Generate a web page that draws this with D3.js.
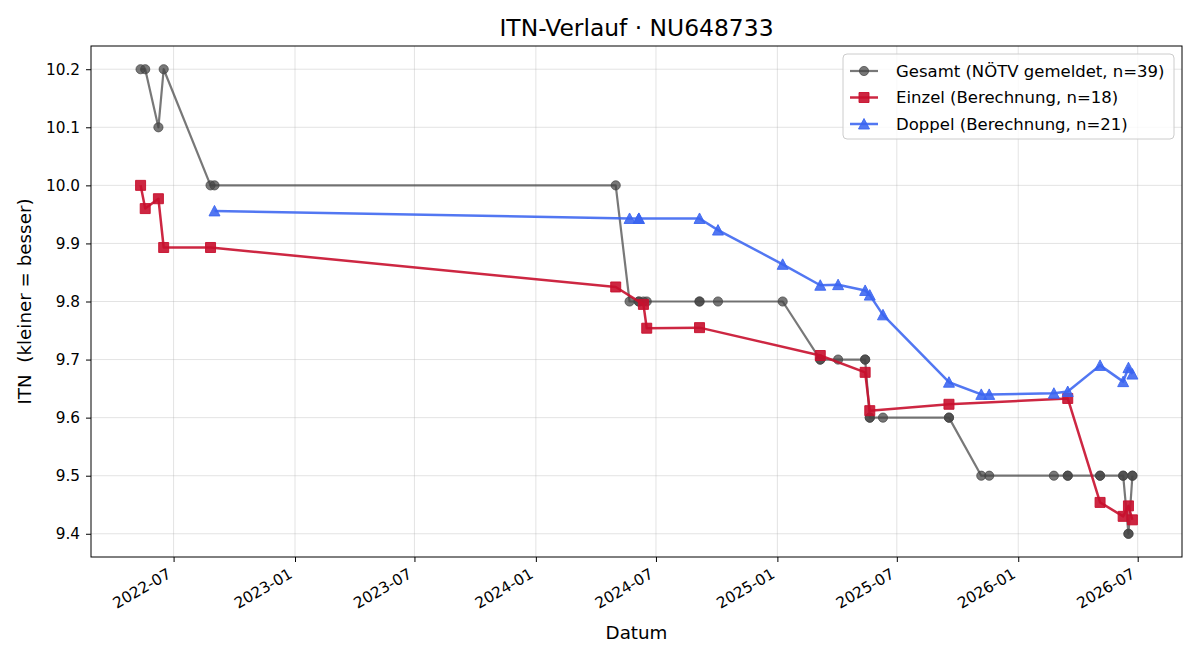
<!DOCTYPE html>
<html>
<head>
<meta charset="utf-8">
<script src="https://cdn.jsdelivr.net/npm/d3@7"></script>
<style>
    body { margin: 0; background: #fff; }
    svg { font-family: "DejaVu Sans", sans-serif; }
</style>
</head>
<body>
<svg id="chart" width="1200" height="660"></svg>
<script>
// Gesamt (NÖTV gemeldet) - one entry per match, same day twice if both played
const gesamtDates = [
    "2022-05-12", "2022-05-19", "2022-06-08", "2022-06-16", "2022-08-26", "2022-09-01",
    "2024-05-01", "2024-05-22", "2024-06-05", "2024-06-05", "2024-06-12", "2024-06-17",
    "2024-09-05", "2024-09-05", "2024-10-03", "2025-01-09", "2025-03-07", "2025-03-07",
    "2025-04-03", "2025-05-14", "2025-05-14", "2025-05-21", "2025-05-21", "2025-06-10",
    "2025-09-18", "2025-09-18", "2025-11-06", "2025-11-18", "2026-02-24", "2026-03-17",
    "2026-03-17", "2026-05-05", "2026-05-05", "2026-06-09", "2026-06-09", "2026-06-17",
    "2026-06-17", "2026-06-23", "2026-06-23"
];
const gesamtValues = [
    10.2, 10.2, 10.1, 10.2, 10.0, 10.0,
    10.0, 9.8, 9.8, 9.8, 9.8, 9.8,
    9.8, 9.8, 9.8, 9.8, 9.7, 9.7,
    9.7, 9.7, 9.7, 9.6, 9.6, 9.6,
    9.6, 9.6, 9.5, 9.5, 9.5, 9.5,
    9.5, 9.5, 9.5, 9.5, 9.5, 9.4,
    9.4, 9.5, 9.5
];

// Einzel (Berechnung)
const einzelDates = [
    "2022-05-12", "2022-05-19", "2022-06-08", "2022-06-16", "2022-08-26", "2024-05-01",
    "2024-06-12", "2024-06-17", "2024-09-05", "2025-03-07", "2025-05-14", "2025-05-21",
    "2025-09-18", "2026-03-17", "2026-05-05", "2026-06-09", "2026-06-17", "2026-06-23"
];
const einzelValues = [
    10.000, 9.960, 9.977, 9.893, 9.893, 9.825,
    9.795, 9.754, 9.755, 9.707, 9.678, 9.612,
    9.623, 9.633, 9.454, 9.430, 9.448, 9.424
];

// Doppel (Berechnung)
const doppelDates = [
    "2022-09-01", "2024-05-22", "2024-06-05", "2024-06-05", "2024-09-05", "2024-10-03",
    "2025-01-09", "2025-03-07", "2025-04-03", "2025-05-14", "2025-05-21", "2025-06-10",
    "2025-09-18", "2025-11-06", "2025-11-18", "2026-02-24", "2026-03-17", "2026-05-05",
    "2026-06-09", "2026-06-17", "2026-06-23"
];
const doppelValues = [
    9.956, 9.943, 9.943, 9.943, 9.943, 9.923,
    9.864, 9.828, 9.829, 9.819, 9.811, 9.777,
    9.661, 9.640, 9.640, 9.642, 9.645, 9.690,
    9.662, 9.686, 9.675
];

const yTickValues = [9.4, 9.5, 9.6, 9.7, 9.8, 9.9, 10.0, 10.1, 10.2];
const titleText = "ITN-Verlauf · NU648733";
const xLabelText = "Datum";
const yLabelText = "ITN  (kleiner = besser)";
const legendLabels = [
    "Gesamt (NÖTV gemeldet, n=39)",
    "Einzel (Berechnung, n=18)",
    "Doppel (Berechnung, n=21)"
];

// Settings
const margin = { top: 46, right: 18, bottom: 103, left: 91 };
const width = 1200 - margin.left - margin.right;
const height = 660 - margin.top - margin.bottom;
const tickFont = 15.3;
const labelFont = 18.3;
const parseDate = d3.timeParse("%Y-%m-%d");

function toPoints(dates, values) {
    return dates.map(function (d, i) { return { date: parseDate(d), value: values[i] }; });
}

let series = [
    { name: legendLabels[0], points: toPoints(gesamtDates, gesamtValues), color: "#444444", opacity: 0.72, width: 2.2, marker: "circle" },
    { name: legendLabels[1], points: toPoints(einzelDates, einzelValues), color: "#c8102e", opacity: 0.9, width: 2.5, marker: "square" },
    { name: legendLabels[2], points: toPoints(doppelDates, doppelValues), color: "#3a64f0", opacity: 0.88, width: 2.5, marker: "triangle" }
];

// scales with matplotlib style 5% margins
let allPoints = series.flatMap(s => s.points);
let xExtent = d3.extent(allPoints, d => d.date);
let xPad = (xExtent[1] - xExtent[0]) * 0.05;
let x = d3.scaleTime()
    .domain([new Date(+xExtent[0] - xPad), new Date(+xExtent[1] + xPad)])
    .range([0, width]);

let yExtent = d3.extent(allPoints, d => d.value);
let yPad = (yExtent[1] - yExtent[0]) * 0.05;
let y = d3.scaleLinear()
    .domain([yExtent[0] - yPad, yExtent[1] + yPad])
    .range([height, 0]);

let svg = d3.select("#chart");
let g = svg.append("g").attr("transform", "translate(" + margin.left + "," + margin.top + ")");

let xTicks = x.ticks(d3.timeMonth.every(6));

// grid
g.append("g").selectAll("line")
    .data(xTicks)
    .join("line")
    .attr("x1", d => x(d)).attr("x2", d => x(d))
    .attr("y1", 0).attr("y2", height)
    .attr("stroke", "#b0b0b0").attr("stroke-opacity", 0.35).attr("stroke-width", 1);
g.append("g").selectAll("line")
    .data(yTickValues)
    .join("line")
    .attr("x1", 0).attr("x2", width)
    .attr("y1", d => y(d)).attr("y2", d => y(d))
    .attr("stroke", "#b0b0b0").attr("stroke-opacity", 0.35).attr("stroke-width", 1);

// add x axis
let xAxis = d3.axisBottom(x).tickValues(xTicks).tickFormat(d3.timeFormat("%Y-%m")).tickSize(5).tickPadding(3);
let xAxisG = g.append("g")
    .attr("transform", "translate(0," + height + ")")
    .call(xAxis);
xAxisG.select(".domain").remove();
xAxisG.selectAll("line").attr("stroke", "#000").attr("stroke-width", 1);
xAxisG.selectAll("text")
    .attr("font-size", tickFont)
    .attr("font-family", "DejaVu Sans")
    .attr("fill", "#000")
    .attr("text-anchor", "end")
    .attr("x", 0).attr("y", 0).attr("dy", 0)
    .attr("transform", "translate(-2,20) rotate(-30)");

// add y axis
let yAxis = d3.axisLeft(y).tickValues(yTickValues).tickFormat(d3.format(".1f")).tickSize(5).tickPadding(6);
let yAxisG = g.append("g").call(yAxis);
yAxisG.select(".domain").remove();
yAxisG.selectAll("line").attr("stroke", "#000").attr("stroke-width", 1);
yAxisG.selectAll("text")
    .attr("font-size", tickFont)
    .attr("font-family", "DejaVu Sans")
    .attr("fill", "#000");

// add lines and markers
let line = d3.line().x(d => x(d.date)).y(d => y(d.value));
let markerPath = {
    circle: "M4.6,0A4.6,4.6,0,1,1,-4.6,0A4.6,4.6,0,1,1,4.6,0Z",
    square: "M-5,-5H5V5H-5Z",
    triangle: "M0,-5.5L5.5,5L-5.5,5Z"
};

series.forEach(function (s) {
    let sg = g.append("g");
    sg.append("path")
        .datum(s.points)
        .attr("d", line)
        .attr("fill", "none")
        .attr("stroke", s.color)
        .attr("stroke-opacity", s.opacity)
        .attr("stroke-width", s.width)
        .attr("stroke-linejoin", "round");
    sg.selectAll(".mk")
        .data(s.points)
        .join("path")
        .attr("class", "mk")
        .attr("d", markerPath[s.marker])
        .attr("transform", d => "translate(" + x(d.date) + "," + y(d.value) + ")")
        .attr("fill", s.color)
        .attr("fill-opacity", s.opacity)
        .attr("stroke", s.color)
        .attr("stroke-opacity", s.opacity)
        .attr("stroke-width", 1);
});

// frame
g.append("rect")
    .attr("width", width).attr("height", height)
    .attr("fill", "none").attr("stroke", "#000").attr("stroke-width", 1);

// title and labels
svg.append("text")
    .attr("x", margin.left + width / 2).attr("y", 36)
    .attr("text-anchor", "middle")
    .attr("font-size", 23.4)
    .text(titleText);
svg.append("text")
    .attr("x", margin.left + width / 2).attr("y", 639)
    .attr("text-anchor", "middle")
    .attr("font-size", labelFont)
    .text(xLabelText);
svg.append("text")
    .attr("transform", "translate(31," + (margin.top + height / 2) + ") rotate(-90)")
    .attr("text-anchor", "middle")
    .attr("font-size", labelFont)
    .style("white-space", "pre")
    .text(yLabelText);

// legend
let legend = svg.append("g").attr("transform", "translate(843,54)");
legend.append("rect")
    .attr("width", 331).attr("height", 85).attr("rx", 4)
    .attr("fill", "#fff").attr("fill-opacity", 0.8)
    .attr("stroke", "#cccccc").attr("stroke-width", 1);
series.forEach(function (s, i) {
    let row = legend.append("g").attr("transform", "translate(0," + (17 + i * 26.5) + ")");
    row.append("line")
        .attr("x1", 7).attr("x2", 35)
        .attr("stroke", s.color).attr("stroke-opacity", s.opacity).attr("stroke-width", s.width);
    row.append("path")
        .attr("d", markerPath[s.marker])
        .attr("transform", "translate(21,0)")
        .attr("fill", s.color).attr("fill-opacity", s.opacity)
        .attr("stroke", s.color).attr("stroke-opacity", s.opacity);
    row.append("text")
        .attr("x", 53).attr("dy", "0.35em")
        .attr("font-size", 16.5)
        .text(s.name);
});
</script>
</body>
</html>
